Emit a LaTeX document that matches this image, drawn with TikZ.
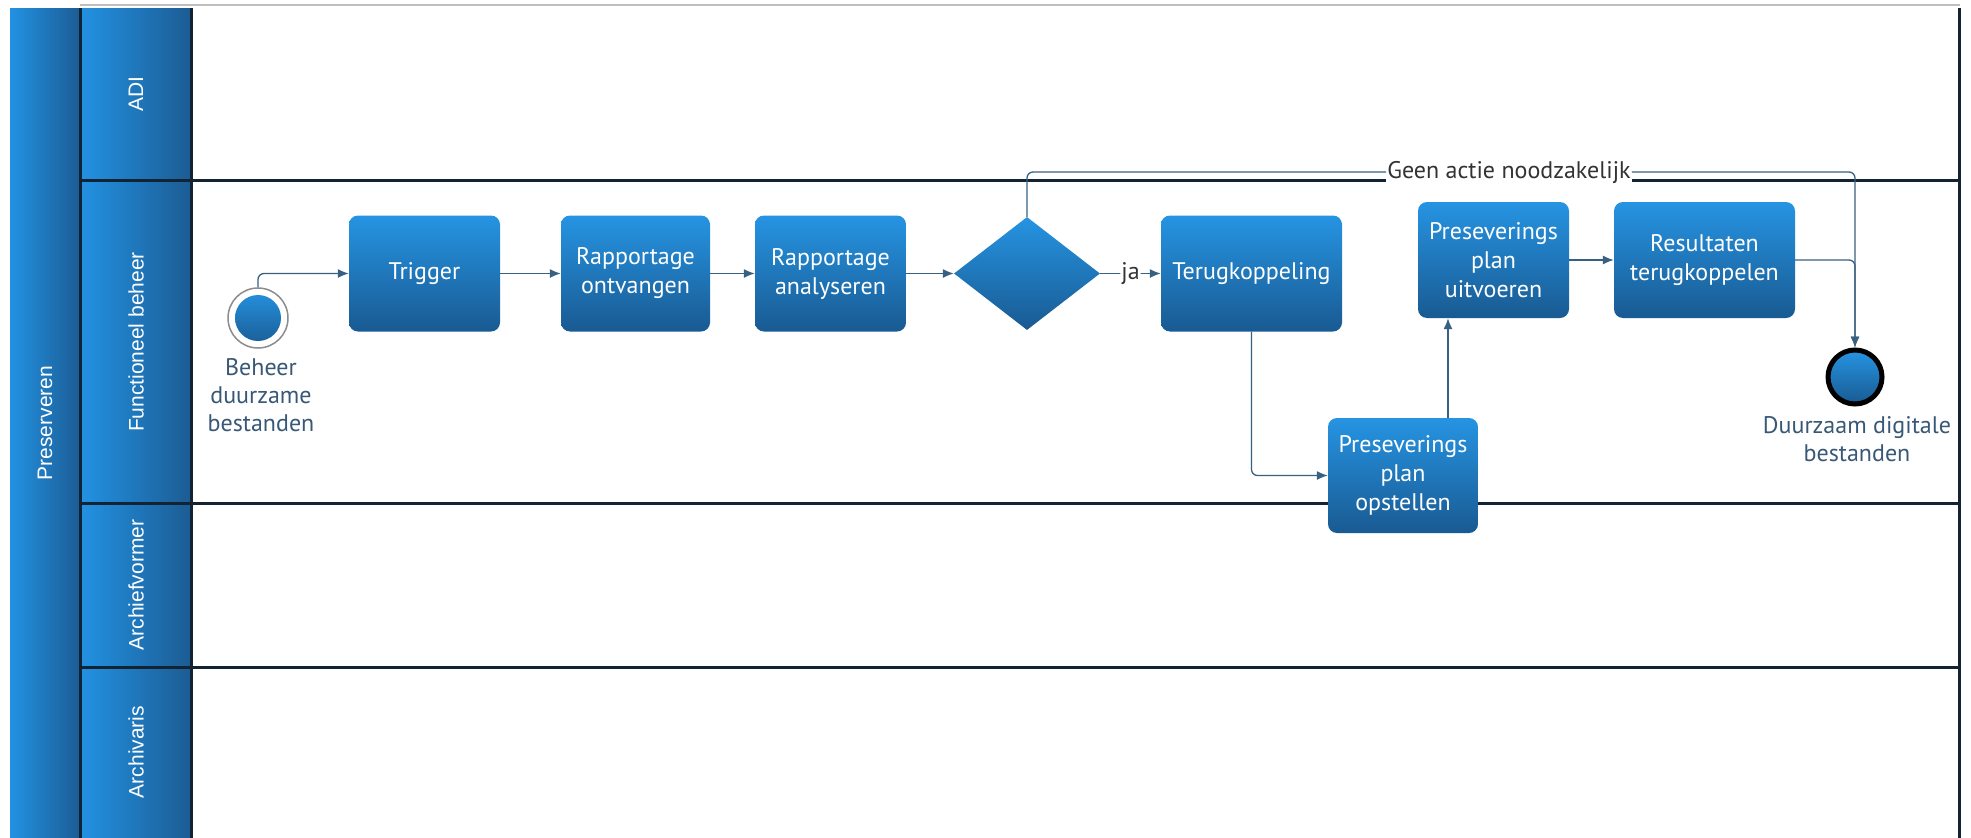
\documentclass[tikz,border=0pt]{standalone}
\usepackage{fontspec}
\setmainfont{PT Sans}
\newfontfamily\lanefont{Liberation Sans}
\usetikzlibrary{arrows.meta,shapes.geometric}

\definecolor{boxtop}{RGB}{38,148,226}
\definecolor{boxbot}{RGB}{25,90,146}
\definecolor{hdrl}{RGB}{34,146,226}
\definecolor{hdrr}{RGB}{28,92,148}
\definecolor{lanedark}{RGB}{18,36,52}
\definecolor{flowc}{RGB}{56,96,128}
\definecolor{evtext}{RGB}{56,88,118}

\begin{document}
\begin{tikzpicture}[x=1pt,y=-1pt,font=\fontsize{24}{29}\selectfont,
  task/.style={rounded corners=9pt,top color=boxtop,bottom color=boxbot,text=white,
    align=center,minimum height=116pt,minimum width=151pt,inner sep=2pt},
  gate/.style={diamond,top color=boxtop,bottom color=boxbot,minimum width=146pt,
    minimum height=113pt,inner sep=0pt},
  flow/.style={draw=flowc,line width=1.3pt,rounded corners=6pt,-{Latex[length=11pt,width=9pt]}},
  line/.style={draw=flowc,line width=1.3pt,rounded corners=6pt},
  lane/.style={draw=lanedark,line width=3pt},
  lanelbl/.style={rotate=90,text=white,font=\lanefont\fontsize{21}{25}\selectfont},
  evlabel/.style={text=evtext,align=center,font=\fontsize{24}{28}\selectfont},
  flowlbl/.style={fill=white,text=black!80,inner sep=1pt}]
  \useasboundingbox (0,0) rectangle (1971,838);

  % pool and lanes
  \draw[black!25,line width=1.5pt] (80,5) -- (1960,5);
  \shade[left color=hdrl,right color=hdrr] (10,8) rectangle (80,838);
  \shade[left color=hdrl,right color=hdrr] (80,8) rectangle (191,838);
  \draw[lane] (80,180) -- (1959,180);
  \draw[lane] (80,503) -- (1959,503);
  \draw[lane] (80,667) -- (1959,667);
  \draw[lane] (80,8) -- (80,838);
  \draw[lane] (191,8) -- (191,838);
  \draw[lane] (1959,8) -- (1959,838);
  \node[lanelbl] (pool) at (45,423) {Preserveren};
  \node[lanelbl] (adi) at (136,94) {ADI};
  \node[lanelbl] (fb) at (136,342) {Functioneel beheer};
  \node[lanelbl] (avm) at (136,585) {Archiefvormer};
  \node[lanelbl] (avs) at (136,752) {Archivaris};

  % events
  \node[circle,draw=black!45,line width=1.5pt,fill=white,minimum size=60pt,
    path picture={\shade[top color=boxtop,bottom color=boxbot]
      (path picture bounding box.center) circle (23pt);}] (start) at (258,318) {};
  \node[evlabel] (startlbl) at (261,395) {Beheer\\duurzame\\bestanden};
  \node[circle,draw=black,line width=5pt,top color=boxtop,bottom color=boxbot,
    minimum size=54pt] (end) at (1855,377) {};
  \node[evlabel] (endlbl) at (1857,439) {Duurzaam digitale\\bestanden};

  % tasks
  \node[task] (trig) at (424.5,273.5) {Trigger};
  \node[task,minimum width=149pt] (ontv) at (635.5,273.5) {Rapportage\\ontvangen};
  \node[task] (anal) at (830.5,273.5) {Rapportage\\analyseren};
  \node[gate] (dec) at (1027,273.5) {};
  \node[task,minimum width=181pt] (terug) at (1251.5,273.5) {Terugkoppeling};
  \node[task,minimum width=150pt,minimum height=115pt] (opst) at (1403,475.5) {Preseverings\\plan\\opstellen};
  \node[task] (uitv) at (1493.5,260) {Preseverings\\plan\\uitvoeren};
  \node[task,minimum width=181pt] (res) at (1704.5,260) {Resultaten\\terugkoppelen};

  % connectors
  \draw[flow] (start.north) |- (trig.west);
  \draw[flow] (trig) -- (ontv);
  \draw[flow] (ontv) -- (anal);
  \draw[flow] (anal) -- (dec);
  \draw[flow] (dec) -- node[flowlbl] (ja) {ja} (terug);
  \node[flowlbl] (geen) at (1509,172) {Geen actie noodzakelijk};
  \draw[line] (dec.north) |- (geen);
  \draw[flow] (geen) -| (end.north);
  \draw[flow] (terug.south) |- (opst.west);
  \draw[flow] ([xshift=45pt]opst.north) -- ([xshift=-45.5pt]uitv.south);
  \draw[flow] (uitv) -- (res);
  \draw[flow] (res.east) -| (end.north);
\end{tikzpicture}
\end{document}
